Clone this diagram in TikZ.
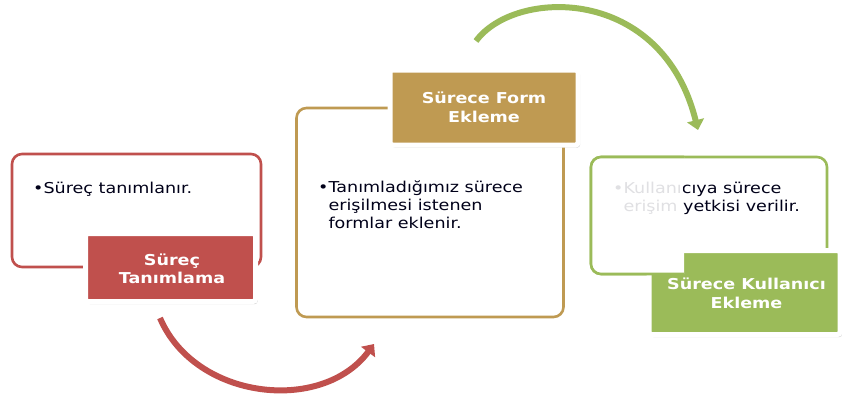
\documentclass[tikz,border=0pt]{standalone}
\usepackage{fontspec}
\setmainfont{DejaVu Sans}[FakeStretch=1.17]
\usetikzlibrary{arrows.meta,shadows}
\definecolor{redc}{HTML}{C0504D}
\definecolor{goldc}{HTML}{BF9A52}
\definecolor{greenc}{HTML}{9BBB59}
\tikzset{
  contentbox/.style={draw=#1, line width=2.6pt, rounded corners=10pt, fill=white, inner sep=0pt},
  labelbox/.style={fill=#1, draw=white, line width=5pt, rounded corners=2.5pt, inner sep=0pt,
    drop shadow={opacity=0.35, shadow xshift=2pt, shadow yshift=-2.5pt}},
  labeltext/.style={text=white, font=\fontsize{15}{18.5}\selectfont\bfseries, align=center, inner sep=0pt},
  bodytext/.style={text=black!90!blue, font=\fontsize{15}{18}\selectfont, align=left, inner sep=0pt, anchor=base west},
  flowarrow/.style={draw=#1, line width=6pt, -{Triangle[length=10pt,width=17pt]}}
}
\begin{document}
\begin{tikzpicture}[x=1pt,y=-1pt]
\useasboundingbox[fill=white] (0,0) rectangle (842,396);

% step 1
\node[contentbox=redc, minimum width=249pt, minimum height=113pt] (box1) at (136.5,210.5) {};
\node[bodytext] (txt1) at (33,193) {•Süreç tanımlanır.};
\node[labelbox=redc, minimum width=170pt, minimum height=68pt] (lab1) at (170.5,267.5) {};
\node[labeltext] (labtxt1) at (172,269) {Süreç\\Tanımlama};

% step 2
\node[contentbox=goldc, minimum width=267pt, minimum height=209pt] (box2) at (430,212.5) {};
\node[bodytext] (txt2) at (318,228) {•Tanımladığımız sürece\\\hphantom{•}erişilmesi istenen\\\hphantom{•}formlar eklenir.};
\node[labelbox=goldc, minimum width=188pt, minimum height=75pt] (lab2) at (484,107.5) {};
\node[labeltext] (labtxt2) at (484,107.5) {Sürece Form\\Ekleme};

% step 3
\node[contentbox=greenc, minimum width=236pt, minimum height=117pt] (box3) at (709,215.5) {};
\node[labelbox=greenc, minimum width=191pt, minimum height=84pt] (lab3) at (744.5,292.5) {};
\begin{scope}
  \clip (580,150) rectangle (684,281);
  \node[contentbox=greenc, minimum width=236pt, minimum height=117pt] (box3top) at (709,215.5) {};
\end{scope}
\node[bodytext] (txt3) at (613,211) {•Kullanıcıya sürece\\\hphantom{•}erişim yetkisi verilir.};
\fill[white, opacity=0.88] (610,176) rectangle (683,220);
\node[labeltext] (labtxt3) at (746.5,293.5) {Sürece Kullanıcı\\Ekleme};

% connecting arrows
\coordinate (r0) at (160,318);
\coordinate (r1) at (374,344);
\draw[flowarrow=redc] (r0) .. controls (195,400) and (322,414) .. (r1);
\coordinate (g0) at (476,41);
\coordinate (g1) at (698,130);
\draw[flowarrow=greenc] (g0) .. controls (515,-12) and (662,-15) .. (g1);
\end{tikzpicture}
\end{document}
